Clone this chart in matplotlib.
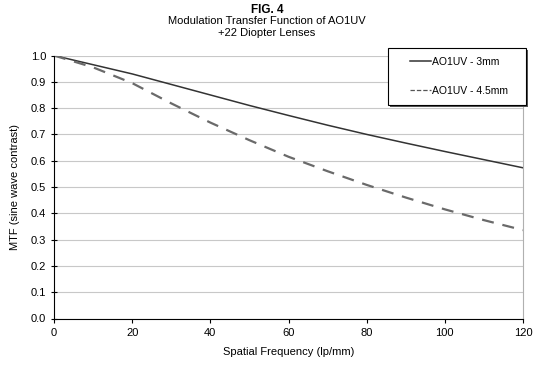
import matplotlib
matplotlib.use("Agg")
import matplotlib.pyplot as plt
import matplotlib.patches as mpatches
from matplotlib.lines import Line2D

plt.rcParams['font.family'] = ['Liberation Sans', 'DejaVu Sans']

freq = [0, 10, 20, 30, 40, 50, 60, 70, 80, 90, 100, 110, 120]
mtf_3mm = [1.0, 0.965, 0.93, 0.89, 0.85, 0.81, 0.772, 0.735, 0.70, 0.667, 0.635, 0.604, 0.573]
mtf_45mm = [1.0, 0.955, 0.895, 0.818, 0.745, 0.678, 0.615, 0.56, 0.508, 0.46, 0.415, 0.374, 0.336]
series_labels = ['AO1UV - 3mm', 'AO1UV - 4.5mm']
yticks = [0.0, 0.1, 0.2, 0.3, 0.4, 0.5, 0.6, 0.7, 0.8, 0.9, 1.0]
xticks = [0, 20, 40, 60, 80, 100, 120]

W, H = 534, 365
fig = plt.figure(figsize=(W/100, H/100), dpi=100)
ax = fig.add_axes([54/W, 46.5/H, 469/W, 263/H])

ax.plot(freq, mtf_3mm, color='#333333', lw=1.1)
ax.plot(freq, mtf_45mm, color='#6a6a6a', lw=1.6, linestyle=(0, (5.4, 4)))

ax.set_xlim(0, 120)
ax.set_ylim(0, 1.0)
ax.set_xticks(xticks)
ax.set_yticks(yticks)
ax.set_yticklabels([f"{v:.1f}" for v in yticks])
ax.yaxis.grid(True, color='#c8c8c8', lw=0.8)
ax.set_axisbelow(True)
ax.spines['top'].set_visible(False)
ax.spines['right'].set_color('#b0b0b0')
ax.spines['left'].set_color('black')
ax.spines['bottom'].set_color('black')
ax.tick_params(axis='both', labelsize=8, color='black', length=4, direction='inout', width=0.8)
ax.tick_params(axis='x', direction='out', length=3)

ax.set_xlabel('Spatial Frequency (lp/mm)', fontsize=8, labelpad=7)
ax.set_ylabel('MTF (sine wave contrast)', fontsize=8, labelpad=8)

fig.text(0.5, 1 - 10/H, 'FIG. 4', ha='center', va='center', fontsize=8.5, fontweight='bold')
fig.text(0.5, 1 - 21/H, 'Modulation Transfer Function of AO1UV', ha='center', va='center', fontsize=8)
fig.text(0.5, 1 - 33/H, '+22 Diopter Lenses', ha='center', va='center', fontsize=8)

# legend box with shadow
bx0, bx1, by0, by1 = 388, 526, 48, 105
shadow = mpatches.Rectangle(((bx0 + 2)/W, 1 - (by1 + 2)/H), (bx1 - bx0)/W, (by1 - by0)/H,
                            transform=fig.transFigure, facecolor='#555555', edgecolor='none', zorder=3)
box = mpatches.Rectangle((bx0/W, 1 - by1/H), (bx1 - bx0)/W, (by1 - by0)/H,
                         transform=fig.transFigure, facecolor='white', edgecolor='black', lw=0.8, zorder=3.5)
fig.patches.extend([shadow, box])

handles = [Line2D([], [], color='#333333', lw=1.1),
           Line2D([], [], color='#555555', lw=0.9, linestyle=(0, (3.5, 1.6)))]
leg = fig.legend(handles, series_labels, loc='center',
                 bbox_to_anchor=((bx0 + bx1)/2/W + 2/W, 1 - (by0 + by1)/2/H),
                 fontsize=7.5, frameon=False, handlelength=2.0, handletextpad=0.15,
                 labelspacing=1.85, borderpad=0)
leg.set_zorder(5)

fig.savefig('out.png', dpi=100)
